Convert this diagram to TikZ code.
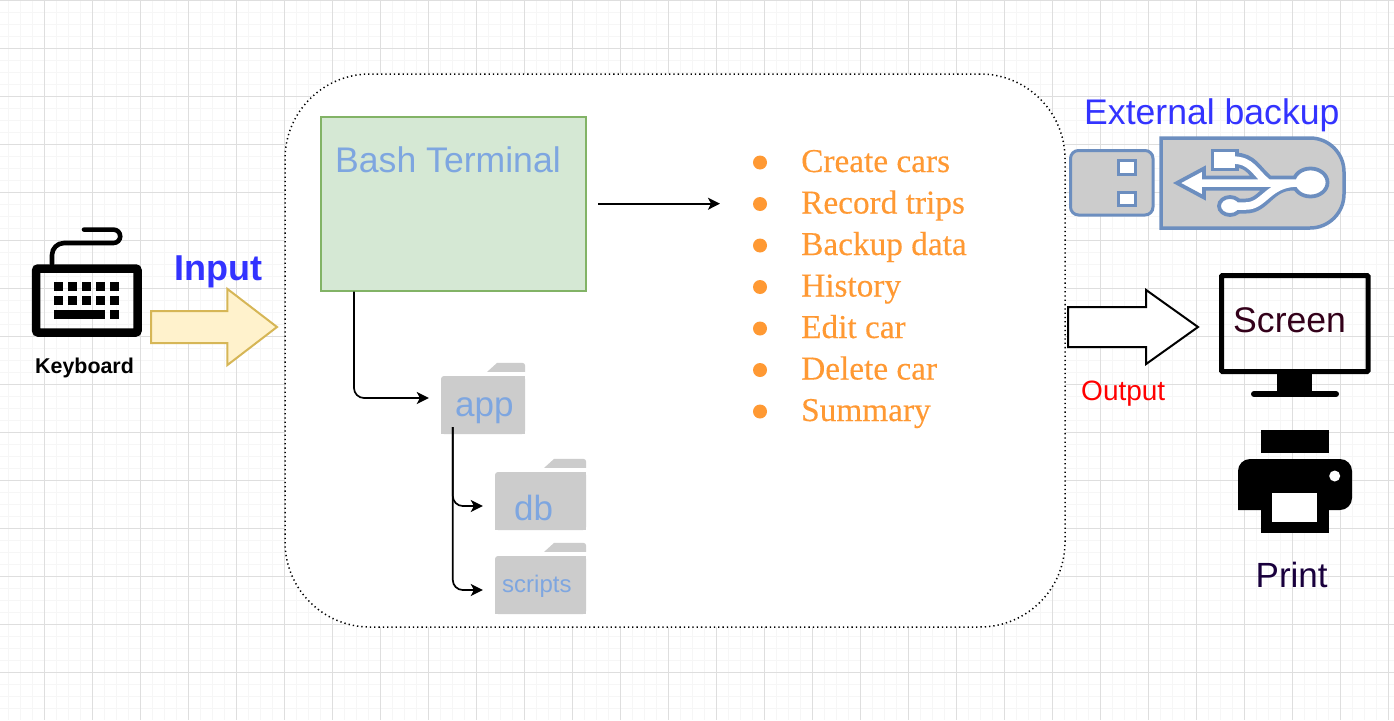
\documentclass[tikz,border=0pt]{standalone}
\usepackage{fontspec}
\setmainfont{Liberation Sans}
\newfontfamily\listfont[FakeBold=0.25]{Liberation Serif}
\usetikzlibrary{shapes.arrows, arrows.meta}
\definecolor{gridmajor}{HTML}{DEDEDE}
\definecolor{gridminor}{HTML}{F6F6F6}
\definecolor{termfill}{HTML}{D5E8D4}
\definecolor{termline}{HTML}{82B366}
\definecolor{sky}{HTML}{7EA6E0}
\definecolor{folder}{HTML}{CCCCCC}
\definecolor{usbline}{HTML}{6C8EBF}
\definecolor{inputfill}{HTML}{FFF2CC}
\definecolor{inputline}{HTML}{D6B656}
\definecolor{ink}{HTML}{3333FF}
\definecolor{listorange}{HTML}{FF9933}
\definecolor{screenink}{HTML}{33001A}
\definecolor{printink}{HTML}{19003D}
\tikzset{
    txt/.style = {anchor=base west, inner sep=0pt},
    big/.style = {txt, font=\fontsize{35.6}{40}\selectfont},
    flow/.style = {-{Stealth[length=12pt,width=12pt,inset=3pt]}, line width=1.7pt},
    folderbody/.style = {fill=folder, rounded corners=3pt, inner sep=0pt, minimum height=58pt},
    fatarrow/.style = {single arrow, single arrow head indent=0pt, anchor=tip, outer sep=0pt, line width=2pt},
    listitem/.style = {txt, text=listorange, font=\listfont\fontsize{33.3}{36}\selectfont},
    listdot/.style = {circle, fill=listorange, inner sep=0pt, minimum size=14pt},
    usbpart/.style = {draw=usbline, line width=3.8pt},
}
\newcommand{\foldertab}[2]{
    \fill[folder] (#1.west) rectangle (#1.south east);
    \fill[folder] (#1.center) rectangle (#1.north east);
    \fill[folder, rounded corners=2pt] ([xshift=-#2 pt,yshift=4pt]#1.north east) [sharp corners] -- ([xshift=-#2 pt + 10pt,yshift=13pt]#1.north east) [rounded corners=3pt] -- ([yshift=13pt]#1.north east) [sharp corners] -- ([yshift=4pt]#1.north east) -- cycle;
}
\begin{document}
\begin{tikzpicture}[x=1pt, y=-1pt]
    \useasboundingbox (0,0) rectangle (1394,720);
    \fill[white] (0,0) rectangle (1394,720);

    \foreach \gx in {8.5,20.5,...,1394} \draw[gridminor, line width=1.5pt] (\gx,0) -- (\gx,720);
    \foreach \gy in {0.5,12.5,...,720} \draw[gridminor, line width=1.5pt] (0,\gy) -- (1394,\gy);
    \foreach \gx in {44.5,92.5,...,1394} \draw[gridmajor, line width=1pt] (\gx,0) -- (\gx,720);
    \foreach \gy in {0.5,48.5,...,720} \draw[gridmajor, line width=1pt] (0,\gy) -- (1394,\gy);

    \node[draw, fill=white, rounded corners=85pt, line width=1.5pt, dash pattern=on 1.3pt off 3pt, minimum width=780pt, minimum height=553pt] (main) at (675,350.5) {};

    \node[draw=termline, fill=termfill, line width=2pt, minimum width=265pt, minimum height=174pt] (term) at (453.5,203.7) {};
    \node[big, text=sky] (termlbl) at (335,172.7) {Bash Terminal};

    \node[folderbody, minimum width=84pt] (app) at (483,405) {};
    \node[folderbody, minimum width=91pt] (db) at (540.5,501) {};
    \node[folderbody, minimum width=91pt] (scripts) at (540.5,585) {};
    \foldertab{app}{38}
    \foldertab{db}{42}
    \foldertab{scripts}{42}
    \node[txt, text=sky, font=\fontsize{35}{40}\selectfont] (applbl) at (455,416) {app};
    \node[txt, text=sky, font=\fontsize{35}{40}\selectfont] (dblbl) at (514,520.5) {db};
    \node[txt, text=sky, font=\fontsize{24}{28}\selectfont] (scriptslbl) at (502,592.5) {scripts};

    \coordinate (listin) at ([xshift=133pt]term.east);
    \coordinate (appin) at ([xshift=-12pt,yshift=7pt]app.west);
    \coordinate (dbin) at ([xshift=-12pt,yshift=-5pt]db.west);
    \coordinate (scriptsin) at ([xshift=-12pt,yshift=-5pt]scripts.west);

    \draw[flow] ([xshift=11pt]term.east) -- (listin);
    \draw[flow, rounded corners=10pt] ([xshift=34pt]term.south west) |- (appin);
    \draw[flow, rounded corners=10pt] ([xshift=12pt,yshift=7pt]app.south west) |- (dbin);
    \draw[flow, rounded corners=10pt] ([xshift=12pt,yshift=7pt]app.south west) |- (scriptsin);

    \foreach \itm [count=\i from 0] in {Create cars, Record trips, Backup data, History, Edit car, Delete car, Summary} {
        \node[listdot] (dot\i) at ({760},{162.5+41.5*\i}) {};
        \node[listitem] (item\i) at ({801},{172+41.5*\i}) {\itm};
    }

    % keyboard
    \draw[line width=8.5pt, rounded corners=2pt] (36.2,268.5) rectangle (137.5,332.5);
    \draw[line width=4.6pt, line cap=round] (52,264) -- (52,255) arc[start angle=180, end angle=90, radius=12pt] -- (113.5,243) arc[start angle=-90, end angle=90, radius=6.7pt] -- (84,229.6);
    \foreach \kx in {54.3,68.3,82.3,96.3,110.3} {
        \fill (\kx,282) rectangle ++(9,9);
        \fill (\kx,296.3) rectangle ++(9,9);
    }
    \fill (54.3,310) rectangle (105,319);
    \fill (110.3,310) rectangle ++(9,9);
    \node[txt, font=\bfseries\fontsize{21.4}{24}\selectfont] (keyboard) at (35,373) {Keyboard};

    \node[fatarrow, draw=inputline, fill=inputfill, inner sep=15pt, minimum height=126pt, minimum width=74pt, single arrow head extend=22pt, single arrow tip angle=75] (input) at (277,327) {};
    \node[big, text=ink, font=\bfseries\fontsize{36}{40}\selectfont] (inputlbl) at (174.5,280) {Input};

    \node[fatarrow, draw=black, fill=white, inner sep=19pt, minimum height=130pt, minimum width=72pt, single arrow head extend=17pt, single arrow tip angle=71] (output) at (1198,327) {};
    \node[txt, text=red, font=\fontsize{28}{32}\selectfont] (outputlbl) at (1081,400) {Output};

    % usb stick
    \node[big, text=ink] (backuplbl) at (1084,124) {External backup};
    \draw[usbpart, fill=folder, rounded corners=8pt, line width=3pt] (1070.5,150.5) rectangle (1153,215);
    \draw[usbpart, fill=white, line width=3pt] (1118.5,160.5) rectangle (1135.5,174);
    \draw[usbpart, fill=white, line width=3pt] (1118.5,192) rectangle (1135.5,205.5);
    \draw[usbpart, fill=folder, line width=3.5pt] (1161,138) -- (1310,138) arc[start angle=90, end angle=0, radius=34pt] -- (1344,194) arc[start angle=0, end angle=-90, radius=34pt] -- (1161,228) -- cycle;
    \draw[draw=usbline, line width=15pt] (1196,183) -- (1296,183) (1234,160) .. controls (1252,160) and (1254,172) .. (1268,183) (1235,206) -- (1246,206) .. controls (1264,206) and (1268,184) .. (1292,183);
    \draw[usbpart, fill=white, line join=miter] (1177,183) -- (1204,168.5) -- (1204,197.5) -- cycle;
    \draw[usbpart, fill=white] (1212.5,150.5) rectangle (1237,169.5);
    \draw[usbpart, fill=white] (1310.5,182.5) ellipse[x radius=17pt, y radius=14pt];
    \draw[usbpart, fill=white] (1230,206) ellipse[x radius=11pt, y radius=9pt];
    \draw[white, line width=7.5pt] (1190,183) -- (1300,183) (1232,160) .. controls (1252,160) and (1254,172) .. (1268,183) (1232,206) -- (1246,206) .. controls (1264,206) and (1268,184) .. (1296,183);

    % screen
    \draw[line width=5pt, rounded corners=1pt] (1221.5,275.5) rectangle (1368,371.5);
    \fill (1277,374) rectangle (1312,392);
    \draw[line width=6pt, line cap=round] (1254,394) -- (1336,394);
    \node[big, text=screenink] (screenlbl) at (1233,332) {Screen};

    % printer
    \fill (1261,430) rectangle (1329,453);
    \fill[rounded corners=12pt] (1238,510) -- (1238,459) -- (1352,459) -- (1352,510) [sharp corners] -- cycle;
    \fill (1261,505) rectangle (1329,533);
    \fill[white] (1272,493) rectangle (1317,522);
    \fill[white] (1334.7,476) circle (5.5pt);
    \node[big, text=printink, font=\fontsize{35}{40}\selectfont] (printlbl) at (1255.5,587.5) {Print};
\end{tikzpicture}
\end{document}
